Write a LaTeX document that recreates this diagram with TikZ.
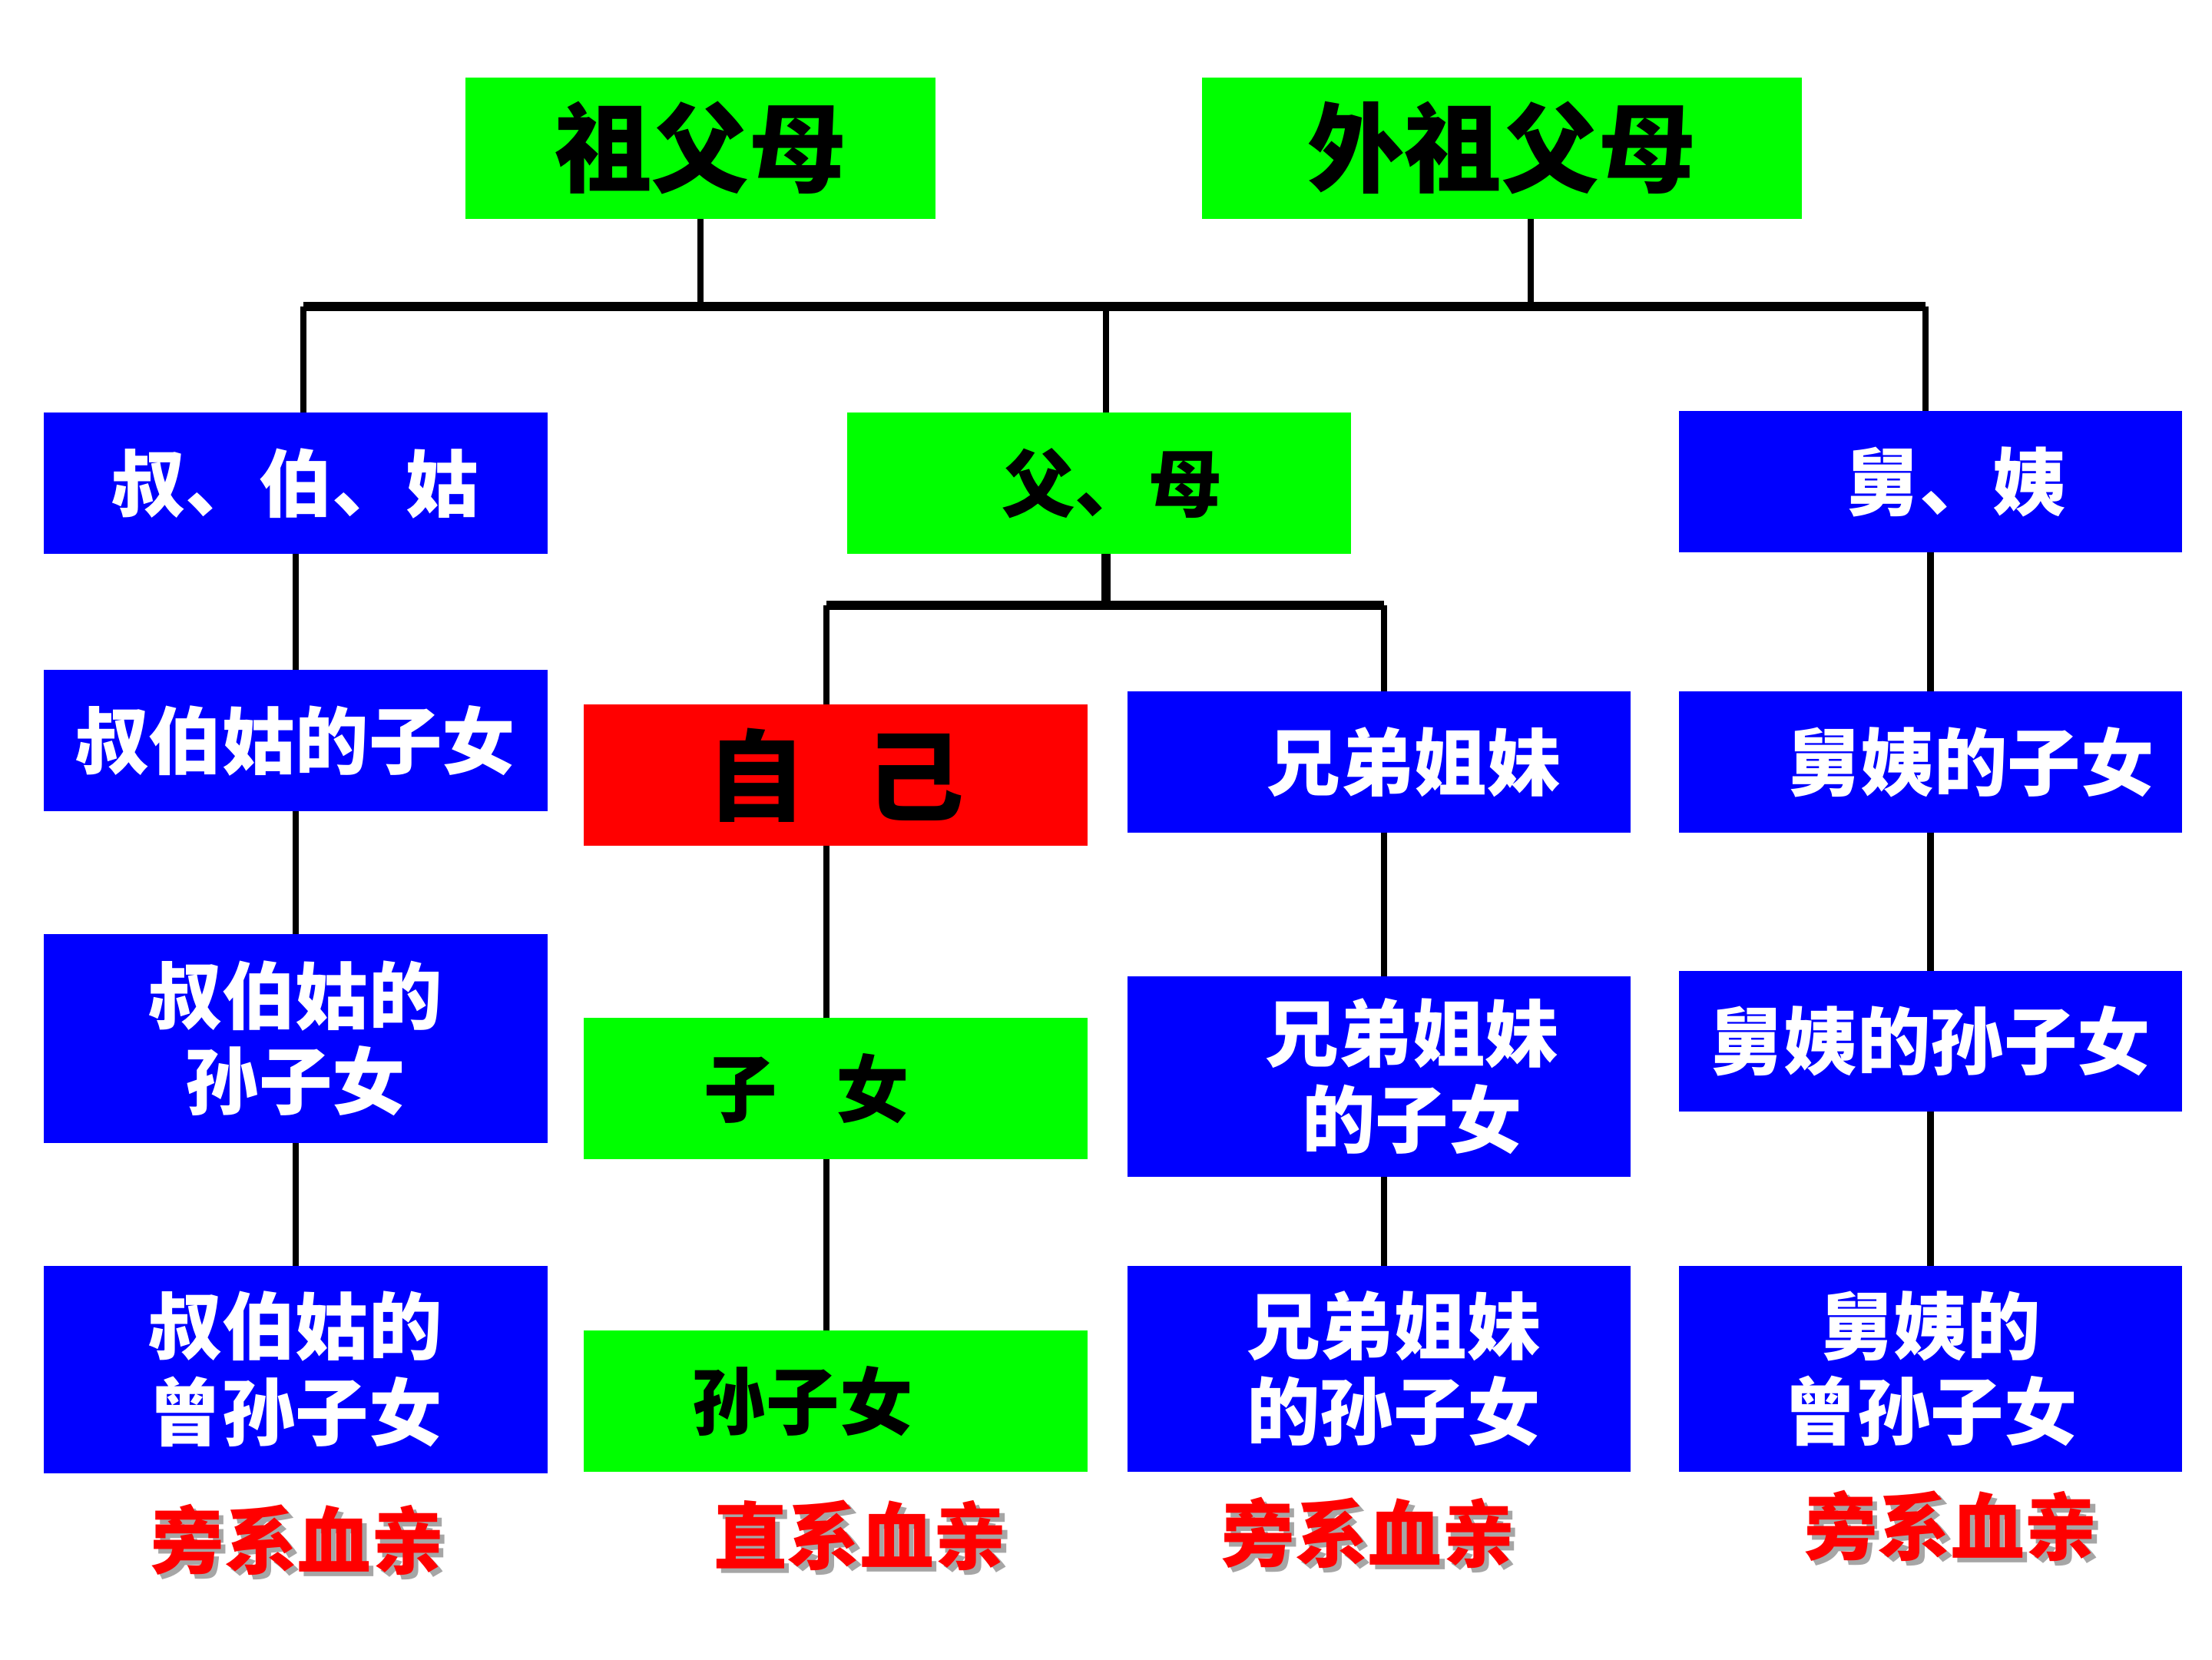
\documentclass[tikz,border=0pt]{standalone}
\usepackage{fontspec}
\setmainfont{Noto Sans CJK SC}
\usetikzlibrary{positioning}
\definecolor{kingreen}{RGB}{0,255,0}
\definecolor{kinblue}{RGB}{0,0,255}
\definecolor{kinred}{RGB}{255,0,0}
\newcommand{\shadowed}[1]{\makebox[0pt][l]{\hspace{0.35mm}\raisebox{-0.35mm}{\color{black!35}#1}}#1}
\begin{document}
\begin{tikzpicture}[
    x=0.1mm, y=-0.1mm,
    kin/.style={rectangle, inner sep=0pt, outer sep=0pt, minimum width=35.7mm, minimum height=10mm, align=center, font=\bfseries\fontsize{14.8}{17.3}\selectfont},
    direct/.style={kin, fill=kingreen, text=black},
    side/.style={kin, fill=kinblue, text=white},
    link/.style={line width=0.45mm, black},
    bus/.style={line width=0.65mm, black},
    kind/.style={font=\bfseries\fontsize{14.8}{17.3}\selectfont, text=kinred, inner sep=0pt}
]
\useasboundingbox (0,0) rectangle (1568,1176);

% Grandparents (y = 105)
\node[direct, minimum width=33.3mm, font=\bfseries\fontsize{19.6}{22}\selectfont] (gp) at (496.5, 105) {祖父母};
\node[direct, minimum width=42.5mm, font=\bfseries\fontsize{19.6}{22}\selectfont] (mgp) at (1064.5, 105) {外祖父母};

% Parents' generation (y = 342)
\node[side] (uncle) at (209.5, 342.5) {叔、伯、姑};
\node[direct] (parents) at (779, 342.5) {\hspace*{0.35em}父、母};
\node[side] (maunt) at (1368.5, 341.5) {\hspace*{0.7em}舅、姨};

% Own generation
\node[side] (cousin) at (209.5, 525) {叔伯姑的子女};
\node[kin, fill=kinred, text=black, font=\bfseries\fontsize{20}{22}\selectfont] (self) at (592.5, 549.5) {自\hspace{0.6em}己};
\node[side] (sib) at (977.5, 540) {\hspace*{0.95em}兄弟姐妹};
\node[side] (mcousin) at (1368.5, 540) {\hspace*{1.1em}舅姨的子女};

% Children's generation
\node[side, minimum height=14.8mm] (cousin2) at (209.5, 736) {叔伯姑的\\孙子女};
\node[direct] (child) at (592.5, 771.5) {子\hspace{0.8em}女\hspace*{0.8em}};
\node[side, minimum height=14.2mm] (sib2) at (977.5, 763) {\hspace*{0.9em}兄弟姐妹\\\hspace*{0.9em}的子女};
\node[side] (mcousin2) at (1368.5, 738) {舅姨的孙子女};

% Grandchildren's generation
\node[side, minimum height=14.7mm] (cousin3) at (209.5, 970.5) {叔伯姑的\\曾孙子女};
\node[direct] (grandchild) at (592.5, 993) {孙子女\hspace*{0.9em}};
\node[side, minimum height=14.6mm] (sib3) at (977.5, 970) {\hspace*{0.4em}兄弟姐妹\\\hspace*{0.4em}的孙子女};
\node[side, minimum height=14.6mm] (mcousin3) at (1368.5, 970) {舅姨的\\曾孙子女};

% Kinship labels
\node[kind] (lblA) at (211, 1093) {\shadowed{旁系血亲}};
\node[kind] (lblB) at (610, 1090) {\shadowed{直系血亲}};
\node[kind] (lblC) at (970, 1088) {\shadowed{旁系血亲}};
\node[kind] (lblD) at (1383, 1083) {\shadowed{旁系血亲}};

% Bus lines
\coordinate (busL) at (215, 217);
\coordinate (busR) at (1365, 217);
\coordinate (busM) at (784, 217);
\coordinate (busG) at (1085, 217);
\coordinate (subL) at (586, 429);
\coordinate (subR) at (981, 429);
\coordinate (subM) at (784, 429);

\draw[bus] (busL) -- (busR);
\draw[link] (gp.south) -- (gp.south |- busL);
\draw[link] (busG |- mgp.south) -- (busG);
\draw[link] (busL) -- (busL |- uncle.north);
\draw[link] (busM) -- (busM |- parents.north);
\draw[link] (busR) -- (busR |- maunt.north);

\draw[bus] (subM |- parents.south) -- (subM);
\draw[bus] (subL) -- (subR);
\draw[link] (subL) -- (subL |- self.north);
\draw[link] (subR) -- (subR |- sib.north);

% Columns
\draw[link] (uncle) -- (cousin);
\draw[link] (cousin) -- (cousin2);
\draw[link] (cousin2) -- (cousin3);
\draw[link] (subL |- self.south) -- (subL |- child.north);
\draw[link] (subL |- child.south) -- (subL |- grandchild.north);
\draw[link] (subR |- sib.south) -- (subR |- sib2.north);
\draw[link] (subR |- sib2.south) -- (subR |- sib3.north);
\draw[link] (maunt) -- (mcousin);
\draw[link] (mcousin) -- (mcousin2);
\draw[link] (mcousin2) -- (mcousin3);

\end{tikzpicture}
\end{document}
